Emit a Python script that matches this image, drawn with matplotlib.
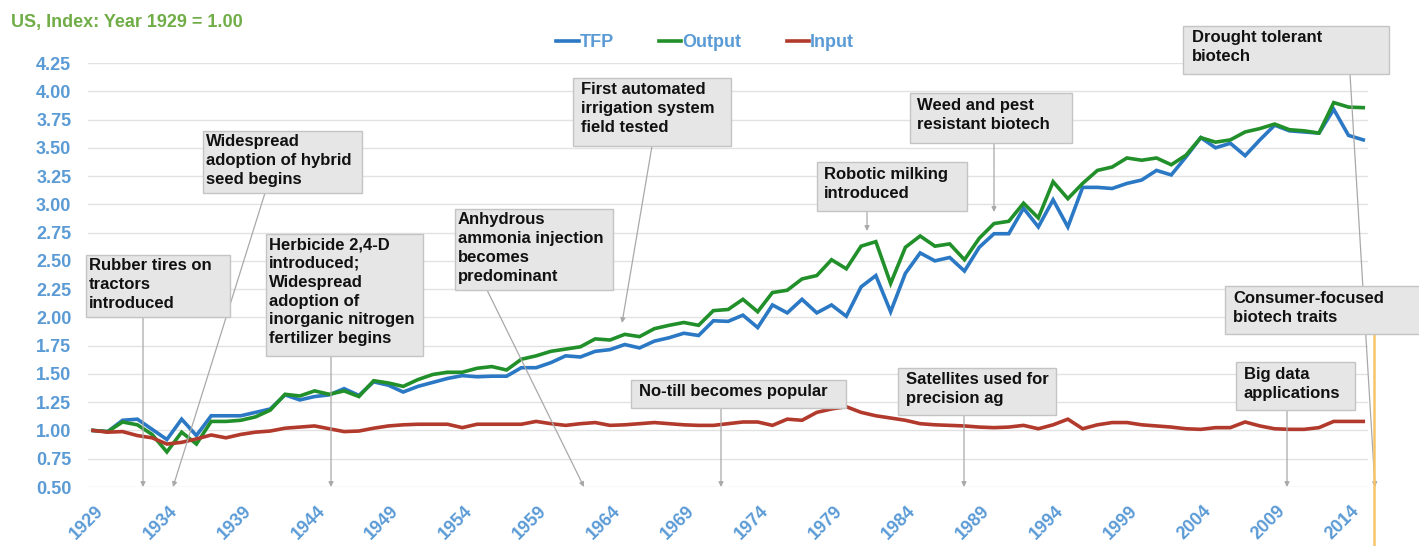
import matplotlib
matplotlib.use("Agg")
import matplotlib.pyplot as plt
from matplotlib.patches import Rectangle
from matplotlib.transforms import ScaledTranslation
import numpy as np

# ---------------- data ----------------
years = list(range(1929, 2016))

tfp = [1.00, 0.99, 1.09, 1.10, 1.01, 0.92, 1.10, 0.955, 1.13, 1.13,
       1.13, 1.16, 1.19, 1.315, 1.27, 1.30, 1.315, 1.37, 1.31, 1.43,
       1.40, 1.34, 1.39, 1.425, 1.46, 1.485, 1.475, 1.48, 1.48, 1.555,
       1.555, 1.60, 1.66, 1.65, 1.70, 1.715, 1.76, 1.73, 1.79, 1.82,
       1.86, 1.84, 1.97, 1.965, 2.02, 1.91, 2.11, 2.04, 2.16, 2.04,
       2.11, 2.01, 2.27, 2.37, 2.05, 2.39, 2.57, 2.50, 2.53, 2.41,
       2.62, 2.74, 2.74, 2.965, 2.80, 3.04, 2.80, 3.15, 3.15, 3.14,
       3.185, 3.215, 3.30, 3.26, 3.42, 3.59, 3.50, 3.54, 3.43, 3.57,
       3.70, 3.65, 3.64, 3.63, 3.84, 3.61, 3.57]

output = [1.00, 0.99, 1.075, 1.05, 0.965, 0.81, 0.985, 0.88, 1.08, 1.08,
          1.09, 1.12, 1.18, 1.32, 1.305, 1.35, 1.32, 1.35, 1.30, 1.44,
          1.42, 1.39, 1.45, 1.495, 1.515, 1.515, 1.55, 1.565, 1.535, 1.63,
          1.66, 1.70, 1.72, 1.74, 1.81, 1.80, 1.85, 1.83, 1.90, 1.93,
          1.955, 1.93, 2.06, 2.07, 2.16, 2.05, 2.22, 2.24, 2.34, 2.37,
          2.51, 2.43, 2.63, 2.67, 2.30, 2.62, 2.72, 2.63, 2.65, 2.51,
          2.70, 2.83, 2.85, 3.01, 2.88, 3.20, 3.05, 3.185, 3.30, 3.33,
          3.41, 3.39, 3.41, 3.35, 3.435, 3.59, 3.55, 3.57, 3.64, 3.67,
          3.71, 3.66, 3.65, 3.63, 3.90, 3.86, 3.855]

inputs = [1.00, 0.985, 0.99, 0.955, 0.935, 0.88, 0.895, 0.925, 0.96, 0.935,
          0.965, 0.985, 0.995, 1.02, 1.03, 1.04, 1.015, 0.99, 0.995, 1.02,
          1.04, 1.05, 1.055, 1.055, 1.055, 1.025, 1.055, 1.055, 1.055, 1.055,
          1.08, 1.06, 1.045, 1.06, 1.07, 1.045, 1.05, 1.06, 1.07, 1.06,
          1.05, 1.045, 1.045, 1.06, 1.075, 1.075, 1.045, 1.10, 1.09, 1.16,
          1.19, 1.21, 1.16, 1.13, 1.11, 1.09, 1.06, 1.05, 1.045, 1.04,
          1.03, 1.025, 1.03, 1.045, 1.015, 1.05, 1.10, 1.015, 1.05, 1.07,
          1.07, 1.05, 1.04, 1.03, 1.015, 1.01, 1.025, 1.025, 1.075, 1.04,
          1.015, 1.01, 1.01, 1.025, 1.08, 1.08, 1.08]

series_names = ["TFP", "Output", "Input"]
y_ticks = [0.50, 0.75, 1.00, 1.25, 1.50, 1.75, 2.00, 2.25, 2.50, 2.75,
           3.00, 3.25, 3.50, 3.75, 4.00, 4.25]
x_ticks = list(range(1929, 2015, 5))
title_text = "US, Index: Year 1929 = 1.00"

notes = [
    "Rubber tires on\ntractors\nintroduced",
    "Widespread\nadoption of hybrid\nseed begins",
    "Herbicide 2,4-D\nintroduced;\nWidespread\nadoption of\ninorganic nitrogen\nfertilizer begins",
    "Anhydrous\nammonia injection\nbecomes\npredominant",
    "First automated\nirrigation system\nfield tested",
    "Robotic milking\nintroduced",
    "Weed and pest\nresistant biotech",
    "Drought tolerant\nbiotech",
    "Consumer-focused\nbiotech traits",
    "Big data\napplications",
    "No-till becomes popular",
    "Satellites used for\nprecision ag",
]

# ---------------- layout (pixels) ----------------
W, H = 1419, 546
note_boxes = [  # x0, y0, x1, y1
    (86, 255, 230, 317),
    (203, 131, 362, 193),
    (266, 234, 423, 356),
    (455, 209, 613, 290),
    (573, 78, 731, 146),
    (817, 162, 967, 211),
    (910, 93, 1072, 143),
    (1183, 26, 1389, 74),
    (1225, 286, 1430, 334),
    (1236, 362, 1355, 410),
    (631, 380, 846, 408),
    (898, 368, 1056, 415),
]
text_offsets = [(3, 3), (3, 3), (3, 3), (3, 3), (8, 4), (7, 5), (7, 5),
                (9, 4), (8, 5), (8, 5), (8, 4), (8, 4)]
pointers = [  # start -> end
    ((143, 317), (143, 487)),
    ((265, 193), (173, 487)),
    ((331, 356), (331, 487)),
    ((487, 290), (584, 487)),
    ((652, 146), (622, 323)),
    ((867, 211), (867, 231)),
    ((994, 143), (994, 212)),
    ((1350, 74), (1375, 487)),
    ((1287, 410), (1287, 487)),
    ((721, 408), (721, 487)),
    ((964, 415), (964, 487)),
]


def fx(px):
    return px / W


def fy(py):
    return 1 - py / H


plt.rcParams['font.family'] = ['Liberation Sans', 'DejaVu Sans']

fig = plt.figure(figsize=(W / 100, H / 100), dpi=100)
ax = fig.add_axes([fx(88), fy(487), (1368 - 88) / W, (487 - 63) / H])

colors = {"TFP": "#2b78c4", "Output": "#22902a", "Input": "#b23a2c"}
label_blue = "#5b9bd5"

for name, vals in zip(series_names, [tfp, output, inputs]):
    ax.plot(years, vals, color=colors[name], lw=2.6, label=name,
            solid_joinstyle='miter', zorder=3)

ax.set_xlim(1928.66, 2015.32)
ax.set_ylim(0.5, 4.25)
ax.set_yticks(y_ticks)
ax.set_yticklabels([f"{v:.2f}" for v in y_ticks])
ax.set_xticks(x_ticks)
ax.set_xticklabels([str(y) for y in x_ticks])
ax.yaxis.grid(True, color='#e2e2e2', lw=1.0, zorder=0)
ax.set_axisbelow(True)
for s in ax.spines.values():
    s.set_visible(False)
ax.tick_params(axis='y', length=0, pad=12, labelsize=13, labelcolor=label_blue)
ax.tick_params(axis='x', length=0, pad=11, labelsize=13, labelcolor=label_blue)
for lab in ax.get_yticklabels():
    lab.set_fontweight('bold')
off = ScaledTranslation(2 / 100, 0, fig.dpi_scale_trans)
for lab in ax.get_xticklabels():
    lab.set_fontweight('bold')
    lab.set_rotation(45)
    lab.set_ha('right')
    lab.set_va('top')
    lab.set_rotation_mode('anchor')
    lab.set_transform(lab.get_transform() + off)

leg = ax.legend(loc='center', bbox_to_anchor=(fx(705), fy(43)),
                bbox_transform=fig.transFigure, ncol=3, frameon=False,
                handlelength=1.25, handletextpad=0.05, columnspacing=2.5,
                borderpad=0, prop={'size': 13, 'weight': 'bold'})
for t in leg.get_texts():
    t.set_color(label_blue)

fig.text(fx(11), fy(23), title_text, color='#70ad47', fontsize=13,
         fontweight='bold', ha='left', va='center')

# pointers
for (s, e) in pointers:
    ax.annotate('', xy=(fx(e[0]), fy(e[1])), xycoords='figure fraction',
                xytext=(fx(s[0]), fy(s[1])), textcoords='figure fraction',
                arrowprops=dict(arrowstyle='-|>', color='#a9a9a9', lw=0.9,
                                mutation_scale=7, shrinkA=0, shrinkB=0),
                annotation_clip=False, zorder=4)
# yellow pointer for consumer-focused biotech
fig.add_artist(plt.Line2D([fx(1374), fx(1374)], [fy(334), fy(546)],
                          color='#f6c56a', lw=1.8, transform=fig.transFigure))

# note boxes
for txt, (x0, y0, x1, y1), (dx, dy) in zip(notes, note_boxes, text_offsets):
    fig.add_artist(Rectangle((fx(x0), fy(y1)), (x1 - x0) / W, (y1 - y0) / H,
                             transform=fig.transFigure, facecolor='#e6e6e6',
                             edgecolor='#c4c4c4', lw=1.0, zorder=5))
    fig.text(fx(x0 + dx), fy(y0 + dy), txt, fontsize=12, fontweight='bold',
             color='#111111', ha='left', va='top', linespacing=1.32, zorder=6)

fig.savefig("out.png", dpi=100)
